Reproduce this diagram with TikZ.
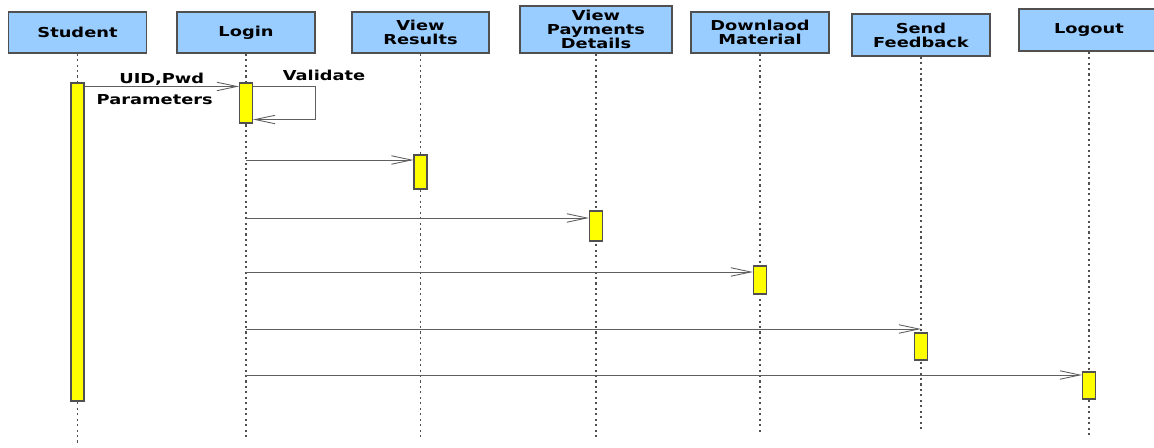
\documentclass[tikz,border=0pt]{standalone}
\usepackage{fontspec}
\newfontfamily\umlfont{DejaVu Sans}[FakeStretch=1.3]
\usetikzlibrary{arrows.meta}
\usetikzlibrary{calc}
\definecolor{headblue}{RGB}{153,204,255}
\definecolor{boxgray}{RGB}{80,80,80}
\definecolor{linegray}{RGB}{95,95,95}
\definecolor{actyellow}{RGB}{255,255,0}

\begin{document}
\begin{tikzpicture}
	[x=0.02cm, y=-0.02cm,
	lbl/.style={text=black, font=\umlfont\bfseries\fontsize{7.8}{8}\selectfont},
	head/.style={lbl, draw=boxgray, line width=0.8pt, fill=headblue, align=center, inner sep=0pt, minimum width=2.76cm, minimum height=0.82cm},
	life/.style={draw=boxgray, line width=0.8pt, dash pattern=on 1.2pt off 1.9pt},
	act/.style={draw=boxgray, line width=0.6pt, fill=actyellow, inner sep=0pt, minimum width=0.26cm},
	msg/.style={draw=linegray, line width=0.5pt, -{Straight Barb[length=0.4cm, width=0.17cm]}}];

	\useasboundingbox (0,0) rectangle (1154,448);

	%Objects
	\node[head] (stu) at (77.5,32.5) {Student};
	\node[head] (lgn) at (246,32.5) {Login};
	\node[head, minimum width=2.74cm] (res) at (420.5,32.5) {View\\Results};
	\node[head, minimum width=3.04cm, minimum height=0.94cm] (pay) at (596,29.5) {View\\Payments\\Details};
	\node[head] (mat) at (760,32.5) {Downlaod\\Material};
	\node[head, minimum height=0.84cm] (fbk) at (921,35) {Send\\Feedback};
	\node[head, minimum width=2.8cm, minimum height=0.84cm] (out) at (1089,30) {Logout};

	%Lifelines
	\foreach \n/\e in {stu/445, lgn/437, res/438, pay/440, mat/432, fbk/430, out/435}
		\draw[life] (\n.south) -- (\n.south |- 0,\e);

	%Activations
	\foreach \n/\c/\h in {stu/242/318, lgn/103/40, res/172/34, pay/226/30, mat/280/28, fbk/346.5/27, out/385.5/27}
		\node[act, minimum height=\h*0.02cm] (\n-act) at (\n.south |- 0,\c) {};

	%Messages
	\draw[msg] ($(stu-act.north east)+(0,4)$) -- ($(lgn-act.north west)+(0,4)$)
		node[midway, above, lbl, inner sep=0.5pt] (uid) {UID,Pwd}
		node[midway, below, lbl, xshift=-0.14cm, inner sep=4.5pt] (par) {Parameters};
	\draw[msg] ($(lgn-act.north east)+(0,4)$) -- ++(62,0)
		node[above, lbl, xshift=0.18cm, inner sep=3pt] (val) {Validate}
		|- ($(lgn-act.south east)+(0,-4)$);
	\foreach \y/\t in {160/res, 218/pay, 272/mat, 375/out}
		\draw[msg] (lgn.south |- 0,\y) -- (\t-act.west |- 0,\y);
	\draw[msg] (lgn.south |- 0,329) -- (fbk-act.north |- 0,329);
\end{tikzpicture}
\end{document}
